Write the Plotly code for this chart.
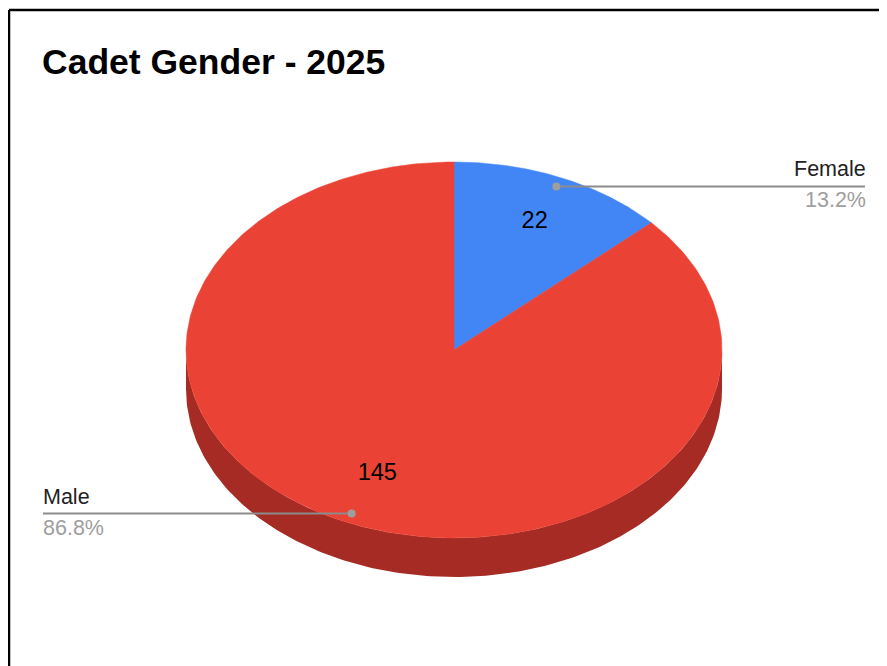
import numpy as np
import plotly.graph_objects as go

# ---- data ----
labels = ["Female", "Male"]
values = [22, 145]
colors = ["#4285F4", "#EA4335"]
side_colors = ["#2A5DB0", "#A52B24"]
title = "Cadet Gender - 2025"

# ---- geometry (page-pixel-like layout units) ----
W, H = 887, 666
OFF = 8  # page body margin
cx, cy = 454, 350
rx, ry = 268, 188
depth = 39
FONT = "Liberation Sans, Arial, sans-serif"

total = sum(values)
fracs = [v / total for v in values]
starts = np.cumsum([0] + fracs[:-1]) * 360
ends = np.cumsum(fracs) * 360


def pt(theta_deg, r=1.0, dy=0.0):
    t = np.radians(theta_deg)
    return cx + rx * r * np.sin(t), cy - ry * r * np.cos(t) + dy


fig = go.Figure()

# side walls (visible front half: 90..270 deg)
for s, e, col in zip(starts, ends, side_colors):
    a, b = max(s, 90), min(e, 270)
    if a >= b:
        continue
    th = np.linspace(a, b, 200)
    xt, yt = pt(th)
    xb, yb = pt(th[::-1], dy=depth)
    fig.add_trace(go.Scatter(x=np.r_[xt, xb, xt[:1]], y=np.r_[yt, yb, yt[:1]],
                             mode="lines", fill="toself", fillcolor=col,
                             line=dict(width=0, color=col), hoverinfo="skip",
                             showlegend=False))

# top faces
for s, e, col in zip(starts, ends, colors):
    th = np.linspace(s, e, 400)
    xs, ys = pt(th)
    fig.add_trace(go.Scatter(x=np.r_[cx, xs, cx], y=np.r_[cy, ys, cy],
                             mode="lines", fill="toself", fillcolor=col,
                             line=dict(width=0.5, color=col), hoverinfo="skip",
                             showlegend=False))

mids = (starts + ends) / 2

# value labels
vx, vy = pt(mids, r=0.73)
fig.add_trace(go.Scatter(x=vx + 2, y=vy - 2, mode="text", text=[str(v) for v in values],
                         textfont=dict(family=FONT, size=23.5, color="#000000"),
                         hoverinfo="skip", showlegend=False))

# leader lines + dots + callout text
dx, dy = pt(mids, r=0.95)
for i, (lab, f) in enumerate(zip(labels, fracs)):
    px, py = dx[i], dy[i]
    right = np.sin(np.radians(mids[i])) >= 0
    end_x = 865 if right else 43
    fig.add_trace(go.Scatter(x=[px, end_x], y=[py, py], mode="lines",
                             line=dict(color="#8c8c8c", width=2),
                             hoverinfo="skip", showlegend=False))
    fig.add_trace(go.Scatter(x=[px], y=[py], mode="markers",
                             marker=dict(color="#9e9e9e", size=8),
                             hoverinfo="skip", showlegend=False))
    xanchor = "right" if right else "left"
    tx = end_x + (3 if right else -2)
    fig.add_annotation(x=tx, y=py - 3, text=lab, showarrow=False,
                       xanchor=xanchor, yanchor="bottom",
                       font=dict(family=FONT, size=21.5, color="#222222"))
    fig.add_annotation(x=tx, y=py + 0, text=f"{f*100:.1f}%", showarrow=False,
                       xanchor=xanchor, yanchor="top",
                       font=dict(family=FONT, size=21.5, color="#9e9e9e"))

# title
fig.add_annotation(x=40, y=62, text=f"<b>{title}</b>", showarrow=False,
                   xanchor="left", yanchor="middle",
                   font=dict(family=FONT, size=35.5, color="#000000"))

# frame
fig.add_shape(type="line", x0=9, y0=10, x1=W + 5, y1=10, line=dict(color="#000", width=2.5))
fig.add_shape(type="line", x0=9, y0=10, x1=9, y1=H + 5, line=dict(color="#000", width=2.5))

fig.update_layout(
    width=W - OFF, height=H - OFF, margin=dict(l=0, r=0, t=0, b=0),
    paper_bgcolor="white", plot_bgcolor="white",
    xaxis=dict(range=[OFF, W], visible=False, fixedrange=True),
    yaxis=dict(range=[H, OFF], visible=False, fixedrange=True),
    showlegend=False,
)

fig.write_html("out.html")
